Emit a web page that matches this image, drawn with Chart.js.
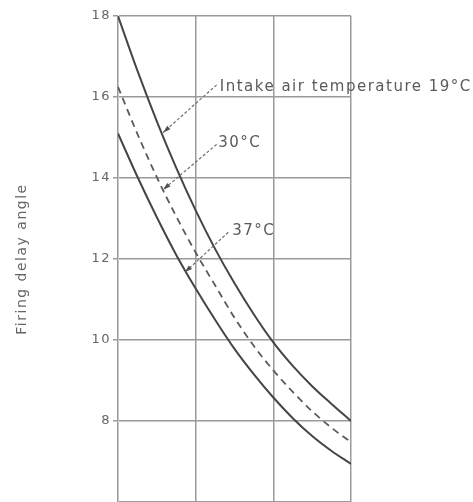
<!DOCTYPE html>
<html>
<head>
<meta charset="utf-8">
<script src="https://cdn.jsdelivr.net/npm/chart.js@4.4.1/dist/chart.umd.min.js"></script>
<style>
  html, body { margin: 0; padding: 0; background: #fff; }
  #wrap { width: 473px; height: 502px; }
</style>
</head>
<body>
<div id="wrap"><canvas id="delayChart"></canvas></div>
<script>
        // Curve data (x has no printed scale, 3 grid divisions)
        const xValues = [0, 0.25, 0.5, 0.75, 1, 1.25, 1.5, 1.75, 2, 2.25, 2.5, 2.75, 3];
        const temp19 = [18.0, 16.65, 15.4, 14.25, 13.2, 12.25, 11.4, 10.63, 9.94, 9.36, 8.86, 8.42, 8.0];
        const temp30 = [16.25, 15.09, 14.02, 13.05, 12.16, 11.35, 10.55, 9.85, 9.25, 8.72, 8.24, 7.83, 7.48];
        const temp37 = [15.1, 14.03, 13.03, 12.1, 11.27, 10.5, 9.78, 9.15, 8.58, 8.07, 7.63, 7.26, 6.94];
        const yTickLabels = [8, 10, 12, 14, 16, 18];
        const curveLabels = ['Intake air temperature 19°C', '30°C', '37°C'];

        // Callouts: label anchor and arrow tip, in data units
        const callouts = [
            { text: curveLabels[0], labelX: 1.31, labelY: 16.25, fromX: 1.27, fromY: 16.3, tipX: 0.58, tipY: 15.12 },
            { text: curveLabels[1], labelX: 1.29, labelY: 14.85, fromX: 1.27, fromY: 14.83, tipX: 0.58, tipY: 13.71 },
            { text: curveLabels[2], labelX: 1.47, labelY: 12.7, fromX: 1.42, fromY: 12.66, tipX: 0.86, tipY: 11.67 }
        ];

        function toPoints(values) {
            return xValues.map((x, i) => ({ x: x, y: values[i] }));
        }

        // Draw leader lines, arrow heads and curve labels
        const calloutPlugin = {
            id: 'callouts',
            beforeDraw(chart) {
                chart.ctx.letterSpacing = '1.5px';
            },
            afterDatasetsDraw(chart) {
                const ctx = chart.ctx;
                const xs = chart.scales.x;
                const ys = chart.scales.y;
                callouts.forEach(c => {
                    const fx = xs.getPixelForValue(c.fromX), fy = ys.getPixelForValue(c.fromY);
                    const tx = xs.getPixelForValue(c.tipX), ty = ys.getPixelForValue(c.tipY);
                    ctx.save();
                    ctx.strokeStyle = '#707070';
                    ctx.lineWidth = 1.2;
                    ctx.setLineDash([3, 2]);
                    ctx.beginPath();
                    ctx.moveTo(fx, fy);
                    ctx.lineTo(tx, ty);
                    ctx.stroke();
                    // arrow head
                    const ang = Math.atan2(ty - fy, tx - fx);
                    ctx.setLineDash([]);
                    ctx.fillStyle = '#505050';
                    ctx.beginPath();
                    ctx.moveTo(tx, ty);
                    ctx.lineTo(tx - 8 * Math.cos(ang - 0.3), ty - 8 * Math.sin(ang - 0.3));
                    ctx.lineTo(tx - 8 * Math.cos(ang + 0.3), ty - 8 * Math.sin(ang + 0.3));
                    ctx.closePath();
                    ctx.fill();
                    // label
                    ctx.letterSpacing = '1.5px';
                    ctx.font = '15px "DejaVu Sans"';
                    ctx.fillStyle = '#5a5a5a';
                    ctx.textAlign = 'left';
                    ctx.textBaseline = 'middle';
                    ctx.fillText(c.text, xs.getPixelForValue(c.labelX), ys.getPixelForValue(c.labelY));
                    ctx.restore();
                });
            }
        };

        const ctx = document.getElementById('delayChart').getContext('2d');
        const chart = new Chart(ctx, {
            type: 'scatter',
            data: {
                datasets: [
                    {
                        label: curveLabels[0],
                        data: toPoints(temp19),
                        showLine: true,
                        borderColor: '#454545',
                        borderWidth: 2,
                        pointRadius: 0,
                        cubicInterpolationMode: 'monotone'
                    },
                    {
                        label: curveLabels[1],
                        data: toPoints(temp30),
                        showLine: true,
                        borderColor: '#5a5a5a',
                        borderWidth: 1.8,
                        borderDash: [7, 5],
                        pointRadius: 0,
                        cubicInterpolationMode: 'monotone'
                    },
                    {
                        label: curveLabels[2],
                        data: toPoints(temp37),
                        showLine: true,
                        borderColor: '#454545',
                        borderWidth: 2,
                        pointRadius: 0,
                        cubicInterpolationMode: 'monotone'
                    }
                ]
            },
            options: {
                responsive: true,
                maintainAspectRatio: false,
                animation: false,
                layout: {
                    padding: { left: 0, right: 122, top: 16, bottom: 0 }
                },
                plugins: {
                    legend: { display: false },
                    tooltip: { enabled: false }
                },
                scales: {
                    x: {
                        type: 'linear',
                        min: 0,
                        max: 3,
                        ticks: { stepSize: 1, display: false },
                        grid: { color: '#9a9a9a', lineWidth: 1.5, drawTicks: false },
                        border: { display: false },
                        afterFit: function (scale) { scale.height = 0; }
                    },
                    y: {
                        min: 6,
                        max: 18,
                        ticks: {
                            stepSize: 2,
                            color: '#666',
                            padding: 2,
                            font: { family: 'DejaVu Sans', size: 13 },
                            callback: function (v) { return yTickLabels.includes(v) ? v : ''; }
                        },
                        grid: {
                            color: '#9a9a9a',
                            lineWidth: 1.5,
                            tickLength: 5,
                            tickColor: function (c) { return c.tick && c.tick.value === 6 ? 'rgba(0,0,0,0)' : '#9a9a9a'; }
                        },
                        border: { color: '#c8c8c8', width: 1 },
                        title: {
                            display: true,
                            text: 'Firing delay angle',
                            color: '#666',
                            font: { family: 'DejaVu Sans', size: 14 },
                            padding: { top: 14, bottom: 0 }
                        },
                        afterFit: function (scale) {
                            scale.width = 118;
                            scale.paddingTop = 0;
                            scale.paddingBottom = 0;
                        }
                    }
                }
            },
            plugins: [calloutPlugin]
        });
</script>
</body>
</html>
